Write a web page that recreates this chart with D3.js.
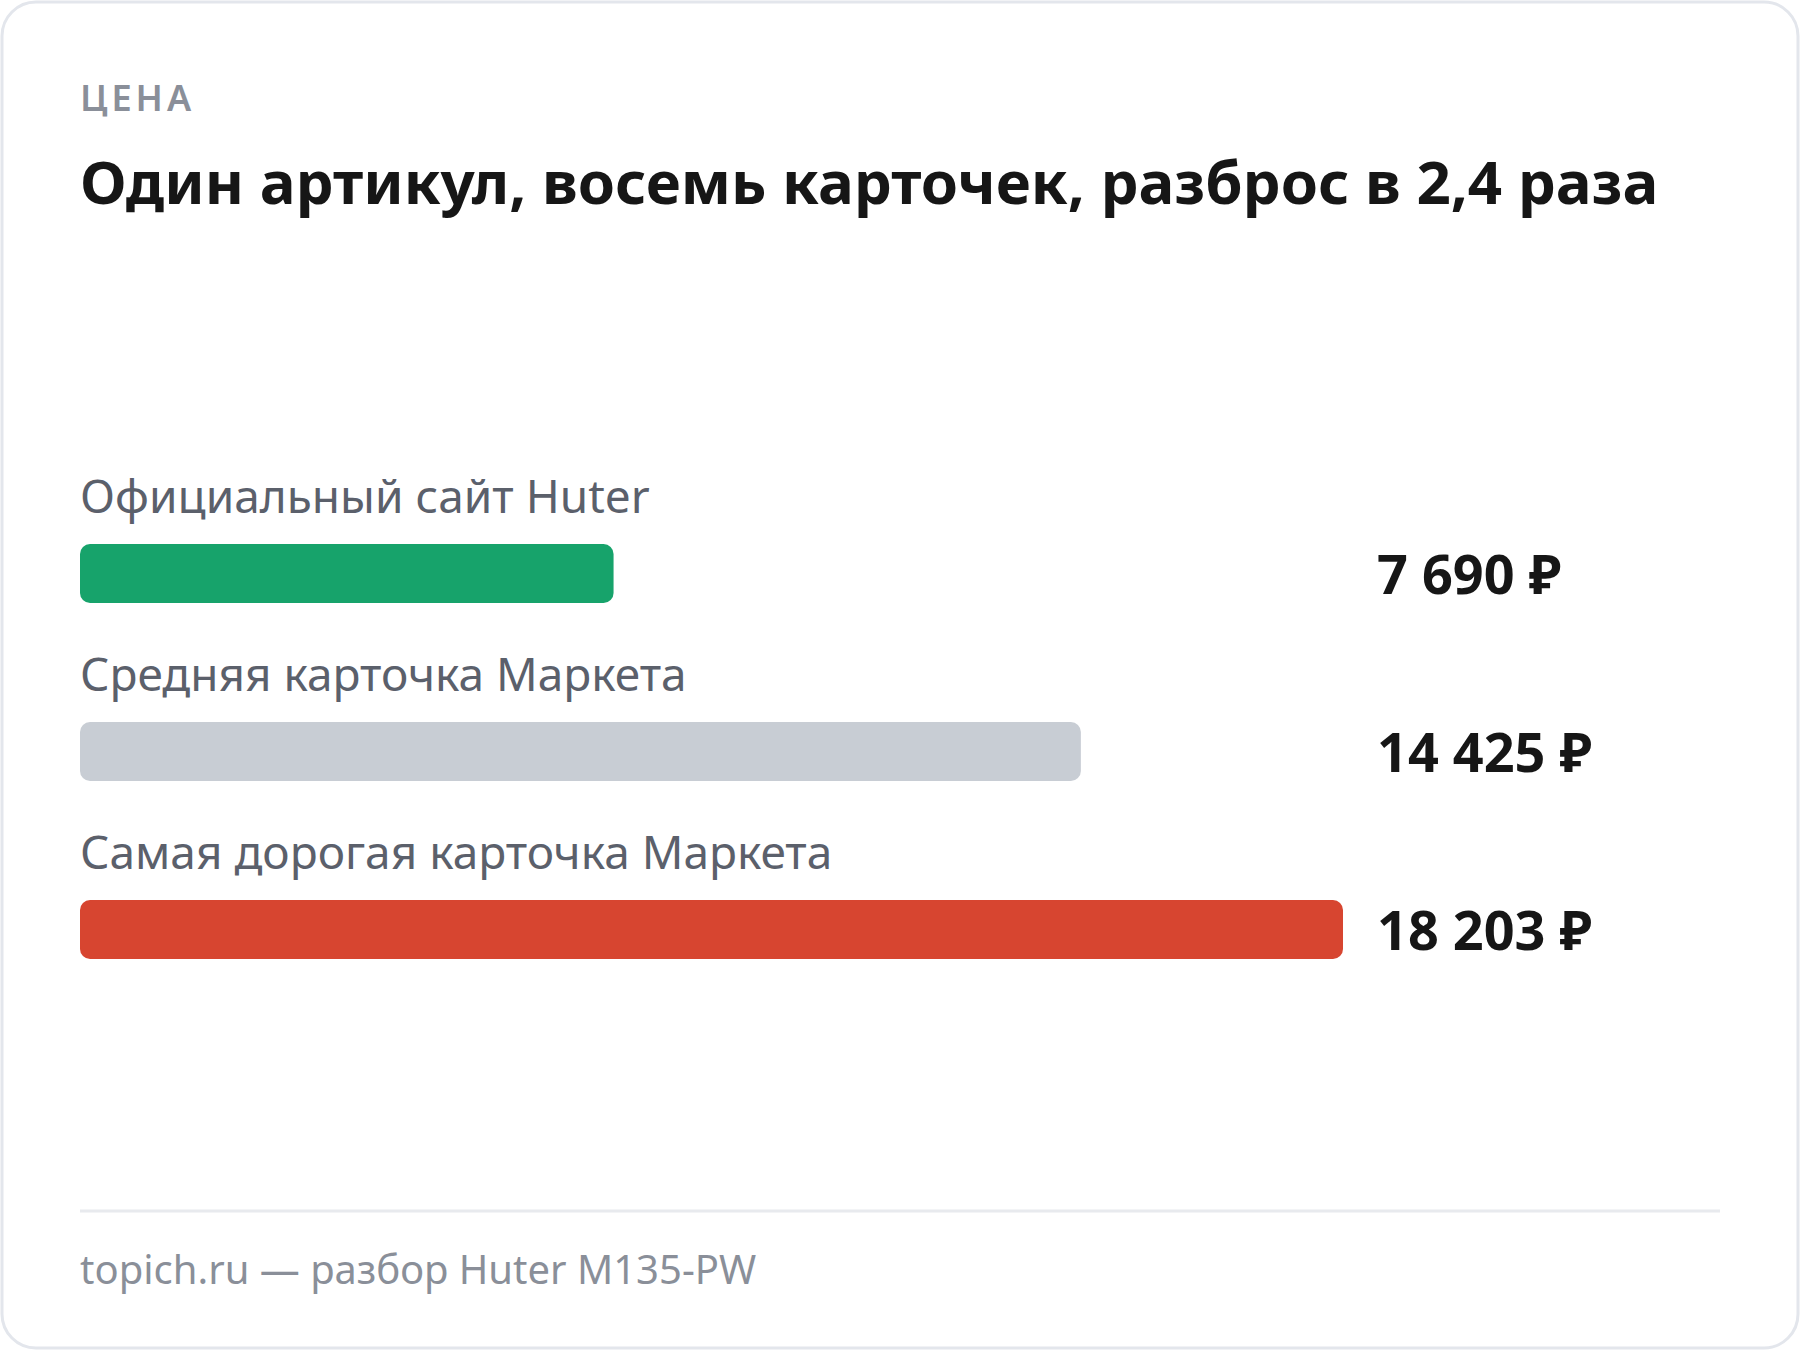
<!DOCTYPE html>
<html lang="ru">
<head>
  <meta charset="UTF-8">
  <title>Цена</title>
  <script src="https://d3js.org/d3.v7.min.js"></script>
  <style>
    body { margin: 0; background: #fff; font-family: "Noto Sans", "Open Sans", sans-serif; }
  </style>
</head>
<body>
  <div id="chart"></div>
  <script>
    // Data
    const categories = ["Официальный сайт Huter", "Средняя карточка Маркета", "Самая дорогая карточка Маркета"];
    const prices = [7690, 14425, 18203];
    const valueLabels = ["7 690 ₽", "14 425 ₽", "18 203 ₽"];
    const colors = ["#17a36b", "#c8cdd4", "#d74530"];

    const width = 1800, height = 1350;
    const left = 80;

    const svg = d3.select("#chart").append("svg")
        .attr("width", width)
        .attr("height", height);

    // Card
    svg.append("rect")
        .attr("x", 2).attr("y", 2)
        .attr("width", width - 4).attr("height", height - 4)
        .attr("rx", 34)
        .attr("fill", "#fff")
        .attr("stroke", "#e3e6ec")
        .attr("stroke-width", 3);

    svg.append("text")
        .attr("x", left).attr("y", 111)
        .attr("font-size", 36).attr("font-weight", 600)
        .attr("letter-spacing", 4)
        .attr("fill", "#8a8f99")
        .text("ЦЕНА");

    svg.append("text")
        .attr("x", left).attr("y", 204)
        .attr("font-size", 60).attr("font-weight", 700)
        .attr("fill", "#161616")
        .text("Один артикул, восемь карточек, разброс в 2,4 раза");

    // Scales
    const x = d3.scaleLinear().domain([0, d3.max(prices)]).range([0, 1263]);
    const y = d3.scaleBand().domain(categories).range([458, 992]).paddingInner(0);

    const row = svg.append("g").selectAll("g")
      .data(categories)
      .join("g")
        .attr("transform", d => `translate(0,${y(d)})`);

    row.append("text")
        .attr("x", left).attr("y", 55)
        .attr("font-size", 46)
        .attr("fill", "#5b606b")
        .text(d => d);

    row.append("rect")
        .attr("x", left).attr("y", 86)
        .attr("height", 59)
        .attr("rx", 10)
        .attr("width", (d, i) => x(prices[i]))
        .attr("fill", (d, i) => colors[i]);

    row.append("text")
        .attr("x", 1377).attr("y", 136)
        .attr("font-size", 54).attr("font-weight", 700)
        .attr("fill", "#161616")
        .text((d, i) => valueLabels[i]);

    // Footer
    svg.append("line")
        .attr("x1", left).attr("x2", 1720)
        .attr("y1", 1211).attr("y2", 1211)
        .attr("stroke", "#e8eaee").attr("stroke-width", 3);

    svg.append("text")
        .attr("x", left).attr("y", 1284)
        .attr("font-size", 40)
        .attr("fill", "#8a8f99")
        .text("topich.ru — разбор Huter M135-PW");
  </script>
</body>
</html>
